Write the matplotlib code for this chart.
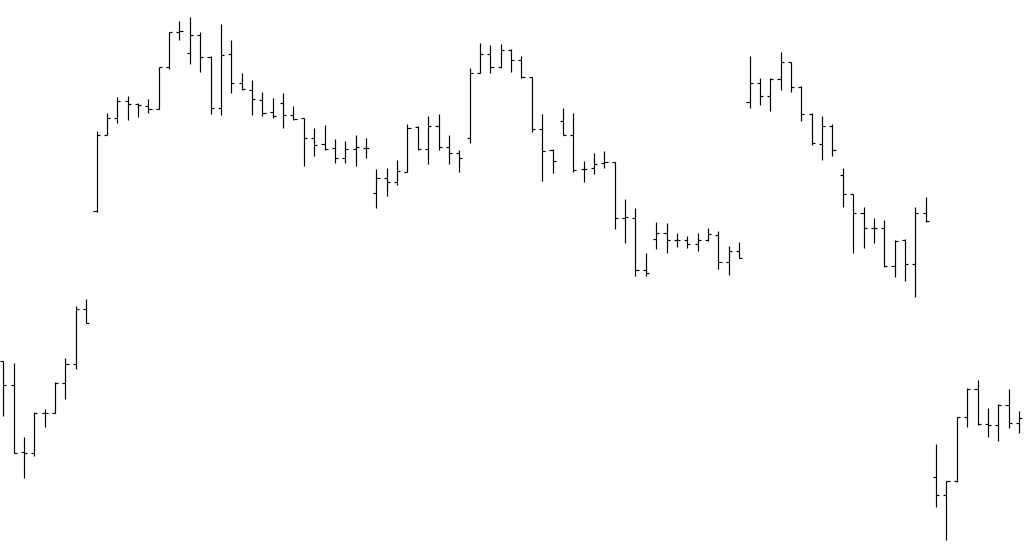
import matplotlib
matplotlib.use("Agg")
import matplotlib.pyplot as plt
import numpy as np

opens = [184, 160, 93, 92, 132, 132, 162, 181, 236, 334,
         410, 427, 444, 441, 439, 436, 478, 513, 492, 510,
         488, 437, 491, 462, 455, 445, 433, 442, 430, 427,
         407, 401, 397, 387, 396, 397, 352, 367, 363, 373,
         418, 396, 419, 398, 392, 407, 472, 491, 478, 495,
         485, 468, 416, 395, 424, 410, 376, 377, 382, 383,
         327, 327, 275, 306, 312, 305, 305, 301, 305, 310,
         283, 294, 443, 462, 449, 466, 483, 458, 431, 401,
         419, 370, 351, 332, 317, 317, 279, 305, 281, 332,
         68, 50, 64, 128, 156, 121, 120, 140, 122]
highs = [184, 182, 108, 133, 136, 163, 187, 239, 246, 414,
         432, 448, 449, 442, 446, 478, 513, 524, 528, 513,
         489, 521, 505, 472, 465, 453, 447, 452, 439, 427,
         417, 420, 406, 404, 410, 407, 376, 377, 385, 421,
         419, 429, 431, 410, 395, 477, 502, 500, 501, 496,
         489, 468, 431, 396, 437, 432, 384, 392, 394, 383,
         346, 337, 292, 323, 322, 312, 309, 312, 317, 314,
         299, 303, 489, 467, 467, 493, 483, 459, 432, 429,
         421, 377, 351, 338, 327, 325, 305, 306, 338, 348,
         101, 64, 128, 157, 165, 137, 141, 156, 134]
lows = [129, 92, 67, 89, 118, 132, 146, 176, 222, 333,
        410, 422, 425, 428, 432, 436, 476, 505, 481, 473,
        431, 430, 452, 455, 430, 429, 427, 417, 425, 379,
        389, 395, 382, 382, 379, 387, 337, 349, 360, 373,
        395, 381, 395, 381, 373, 402, 472, 472, 477, 473,
        467, 413, 364, 372, 410, 373, 363, 371, 377, 316,
        302, 269, 269, 296, 292, 298, 297, 294, 304, 276,
        270, 287, 437, 440, 434, 455, 453, 424, 400, 385,
        389, 338, 292, 297, 302, 278, 268, 264, 248, 323,
        38, 5, 63, 118, 120, 108, 104, 117, 112]
closes = [160, 92, 92, 132, 132, 162, 181, 236, 222, 410,
          427, 444, 441, 440, 436, 478, 513, 514, 510, 488,
          437, 490, 462, 456, 446, 432, 429, 430, 426, 407,
          400, 396, 387, 396, 398, 397, 367, 363, 374, 417,
          396, 419, 398, 392, 387, 472, 491, 478, 495, 485,
          468, 416, 394, 384, 410, 375, 376, 381, 383, 327,
          328, 275, 272, 312, 305, 305, 301, 305, 311, 283,
          294, 287, 462, 449, 466, 483, 458, 431, 402, 419,
          395, 351, 332, 317, 317, 279, 304, 281, 332, 324,
          50, 64, 128, 156, 121, 120, 140, 122, 127]

x = np.arange(len(opens))
tick = 0.3

fig = plt.figure(figsize=(10.24, 5.45), dpi=100)
ax = fig.add_axes([0, 0, 1, 1])
ax.vlines(x, lows, highs, color="black", linewidth=0.85)
ax.hlines(opens, x - tick, x, color="black", linewidth=0.85)
ax.hlines(closes, x, x + tick, color="black", linewidth=0.85)
ax.set_xlim(-0.318, -0.318 + 1024 / 10.364)
ax.set_ylim(0, 545)
ax.axis("off")
fig.savefig("out.png", dpi=100)
